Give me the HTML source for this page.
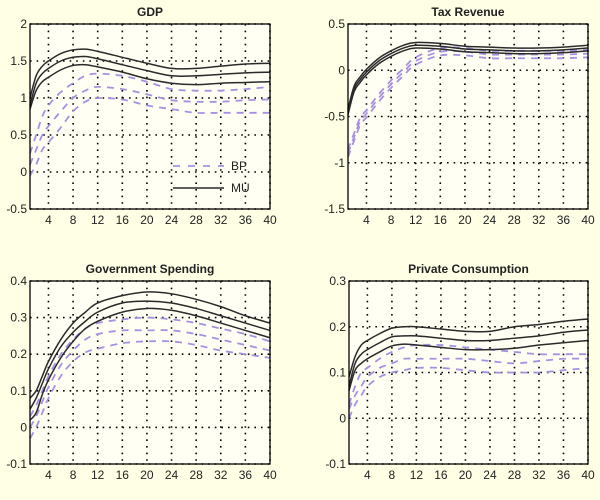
<!DOCTYPE html>
<html><head><meta charset="utf-8">
<style>
body{margin:0;background:#ffffe6;}
svg{display:block;font-family:"Liberation Sans",sans-serif;}
</style></head>
<body>
<svg id="c" width="600" height="500" xmlns="http://www.w3.org/2000/svg">
<rect width="600" height="500" fill="#ffffe6"/>
</svg>
<script>
const xs=[1,2,3,4,6,8,10,12,16,20,24,28,32,36,40];
const xTicks=[4,8,12,16,20,24,28,32,36,40];
const gdpMuU=[1,1.3,1.43,1.5,1.6,1.65,1.66,1.63,1.55,1.47,1.4,1.4,1.43,1.46,1.47];
const gdpMuM=[0.9,1.2,1.33,1.4,1.5,1.55,1.56,1.53,1.45,1.37,1.3,1.3,1.32,1.34,1.35];
const gdpMuL=[0.85,1.1,1.22,1.28,1.38,1.44,1.45,1.42,1.35,1.26,1.2,1.18,1.2,1.21,1.22];
const gdpBpU=[0.25,0.5,0.75,0.9,1.08,1.2,1.3,1.33,1.3,1.22,1.12,1.1,1.1,1.12,1.15];
const gdpBpM=[0.1,0.3,0.5,0.62,0.82,1.0,1.1,1.15,1.12,1.05,0.97,0.95,0.95,0.97,0.98];
const gdpBpL=[-0.05,0.1,0.3,0.4,0.6,0.82,0.95,1.0,0.98,0.9,0.85,0.8,0.8,0.8,0.8];
const gdpYTicks=[-0.5,0,0.5,1,1.5,2];
const taxMuU=[-0.42,-0.17,-0.07,0.01,0.13,0.21,0.27,0.3,0.29,0.26,0.25,0.24,0.24,0.25,0.27];
const taxMuM=[-0.45,-0.2,-0.1,-0.02,0.1,0.18,0.24,0.27,0.26,0.23,0.22,0.21,0.21,0.22,0.24];
const taxMuL=[-0.48,-0.23,-0.13,-0.05,0.07,0.15,0.21,0.24,0.23,0.2,0.19,0.18,0.18,0.19,0.21];
const taxBpU=[-0.86,-0.68,-0.51,-0.43,-0.26,-0.11,0.02,0.14,0.24,0.24,0.21,0.21,0.21,0.21,0.22];
const taxBpM=[-0.9,-0.72,-0.55,-0.47,-0.3,-0.15,-0.02,0.1,0.2,0.2,0.17,0.17,0.17,0.17,0.18];
const taxBpL=[-0.94,-0.76,-0.59,-0.51,-0.34,-0.19,-0.06,0.06,0.16,0.16,0.13,0.13,0.13,0.13,0.14];
const taxYTicks=[-1.5,-1,-0.5,0,0.5];
const govMuU=[0.08,0.1,0.14,0.18,0.24,0.285,0.315,0.34,0.36,0.37,0.365,0.35,0.33,0.305,0.285];
const govMuM=[0.05,0.08,0.12,0.16,0.22,0.26,0.29,0.315,0.34,0.345,0.34,0.325,0.305,0.285,0.265];
const govMuL=[0.02,0.04,0.09,0.13,0.19,0.235,0.27,0.29,0.315,0.325,0.32,0.305,0.285,0.265,0.245];
const govBpU=[0.03,0.06,0.1,0.14,0.2,0.24,0.27,0.285,0.295,0.3,0.295,0.285,0.27,0.255,0.235];
const govBpM=[0.0,0.03,0.07,0.11,0.17,0.21,0.24,0.255,0.265,0.265,0.265,0.255,0.24,0.225,0.21];
const govBpL=[-0.03,0.0,0.04,0.08,0.14,0.18,0.205,0.215,0.23,0.235,0.235,0.225,0.21,0.2,0.19];
const govYTicks=[-0.1,0,0.1,0.2,0.3,0.4];
const pcMuU=[0.09,0.135,0.16,0.17,0.185,0.197,0.2,0.2,0.195,0.19,0.19,0.2,0.205,0.212,0.217];
const pcMuM=[0.07,0.12,0.14,0.15,0.165,0.178,0.18,0.18,0.175,0.17,0.17,0.175,0.18,0.188,0.193];
const pcMuL=[0.06,0.105,0.12,0.13,0.145,0.158,0.162,0.16,0.155,0.15,0.15,0.153,0.16,0.165,0.17];
const pcBpU=[0.03,0.07,0.1,0.11,0.13,0.145,0.155,0.16,0.16,0.155,0.15,0.145,0.14,0.14,0.14];
const pcBpM=[0.02,0.05,0.07,0.09,0.11,0.12,0.13,0.13,0.13,0.13,0.125,0.12,0.125,0.13,0.13];
const pcBpL=[0.0,0.03,0.05,0.07,0.09,0.1,0.105,0.11,0.11,0.105,0.1,0.1,0.1,0.105,0.11];
const pcYTicks=[-0.1,0,0.1,0.2,0.3];

const NS="http://www.w3.org/2000/svg";
const svg=document.getElementById('c');
function mk(tag,attrs,parent){const e=document.createElementNS(NS,tag);for(const k in attrs)e.setAttribute(k,attrs[k]);(parent||svg).appendChild(e);return e;}
function fmt(v){return String(Math.round(v*10)/10);}
function smooth(pts){let d='M'+pts[0][0]+','+pts[0][1];for(let i=0;i<pts.length-1;i++){const p0=pts[Math.max(0,i-1)],p1=pts[i],p2=pts[i+1],p3=pts[Math.min(pts.length-1,i+2)];const c1x=p1[0]+(p2[0]-p0[0])/6,c1y=p1[1]+(p2[1]-p0[1])/6,c2x=p2[0]-(p3[0]-p1[0])/6,c2y=p2[1]-(p3[1]-p1[1])/6;d+=' C'+c1x+','+c1y+' '+c2x+','+c2y+' '+p2[0]+','+p2[1];}return d;}

function panel(name,title,L,R,T,B,ymin,ymax,yTicks,bp,mu){
  const g=mk('g',{});
  
  
  const sx=v=>L+(v-1)/(40-1)*(R-L);
  const sy=v=>B-(v-ymin)/(ymax-ymin)*(B-T);
  const bg=mk('rect',{x:L,y:T,width:R-L,height:B-T,fill:'#fffff4'},g);
  
  
  const t=mk('text',{x:(L+R)/2,y:T-8,'text-anchor':'middle','font-size':'12','font-weight':'bold',fill:'#222'},g);
  t.textContent=title;
  
  
  xTicks.forEach(v=>{
    const x=sx(v);
    const gl=mk('line',{x1:x,x2:x,y1:T,y2:B,stroke:'#000','stroke-width':1.6,'stroke-dasharray':'1.6,5'},g);
    
    
    const tl=mk('text',{x:x,y:B+15,'text-anchor':'middle','font-size':'12',fill:'#222'},g);
    tl.textContent=v;
    
    
  });
  yTicks.forEach(v=>{
    const y=sy(v);
    const gl=mk('line',{x1:L,x2:R,y1:y,y2:y,stroke:'#000','stroke-width':1.6,'stroke-dasharray':'1.6,5'},g);
    
    
    const tl=mk('text',{x:L-3,y:y+4,'text-anchor':'end','font-size':'12',fill:'#222'},g);
    tl.textContent=fmt(v);
    
    
  });
  bp.forEach((s,i)=>{
    const p=mk('path',{d:smooth(xs.map((x,j)=>[sx(x),sy(s[j])])),fill:'none',stroke:'#a890e0','stroke-width':1.8,'stroke-dasharray':'7,6'},g);
    
    
  });
  mu.forEach((s,i)=>{
    const p=mk('path',{d:smooth(xs.map((x,j)=>[sx(x),sy(s[j])])),fill:'none',stroke:'#2a2a2a','stroke-width':1.5},g);
    
    
  });
  const box=mk('rect',{x:L,y:T,width:R-L,height:B-T,fill:'none',stroke:'#000','stroke-width':1.3},g);
  
  
  return g;
}
panel('gdp','GDP',30,270,24,209,-0.5,2,gdpYTicks,[gdpBpU,gdpBpM,gdpBpL],[gdpMuU,gdpMuM,gdpMuL]);
panel('tax','Tax Revenue',348,588,24,209,-1.5,0.5,taxYTicks,[taxBpU,taxBpM,taxBpL],[taxMuU,taxMuM,taxMuL]);
panel('gov','Government Spending',30,270,281,464,-0.1,0.4,govYTicks,[govBpU,govBpM,govBpL],[govMuU,govMuM,govMuL]);
panel('pc','Private Consumption',349,588,281,464,-0.1,0.3,pcYTicks,[pcBpU,pcBpM,pcBpL],[pcMuU,pcMuM,pcMuL]);

const lg=mk('g',{});


const l1=mk('line',{x1:173,x2:224,y1:166,y2:166,stroke:'#a890e0','stroke-width':1.8,'stroke-dasharray':'7,8'},lg);


const t1=mk('text',{x:231,y:170,'font-size':'12',fill:'#222'},lg);t1.textContent='BP';


const l2=mk('line',{x1:173,x2:224,y1:188,y2:188,stroke:'#2a2a2a','stroke-width':1.5},lg);


const t2=mk('text',{x:231,y:192,'font-size':'12',fill:'#222'},lg);t2.textContent='MU';


</script>
</body></html>
